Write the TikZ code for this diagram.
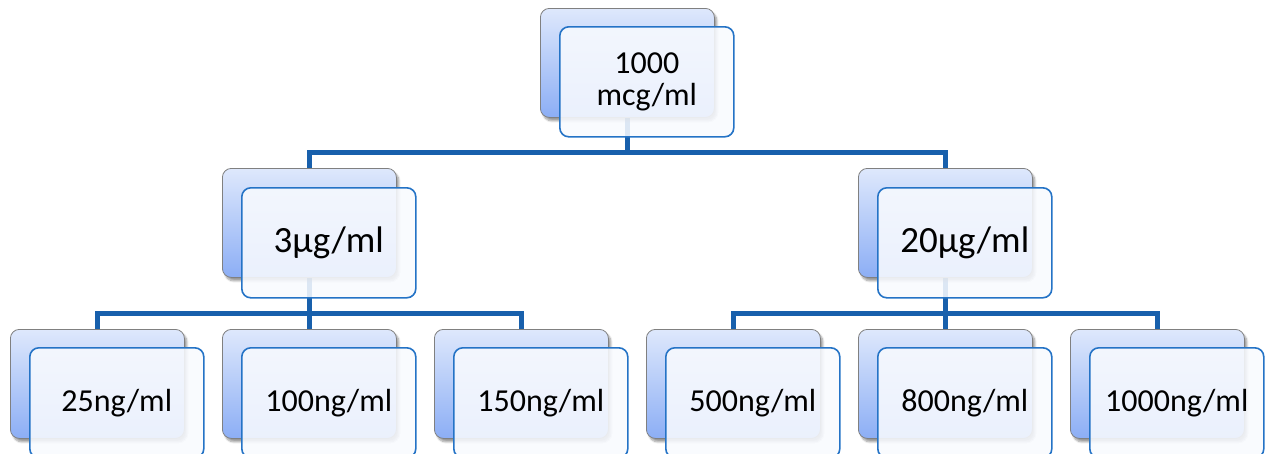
\documentclass[tikz,border=0pt]{standalone}
\usepackage{fontspec}
\setmainfont{Carlito}
\usetikzlibrary{shadows.blur,backgrounds}
\definecolor{linkblue}{RGB}{24,96,172}
\definecolor{edgeblue}{RGB}{36,115,198}
\definecolor{backtop}{RGB}{222,232,252}
\definecolor{backbot}{RGB}{140,174,245}
\definecolor{frontfill}{RGB}{248,250,254}
\begin{document}
\begin{tikzpicture}[x=1pt,y=-1pt,
  backbox/.style={draw=black!50, line width=0.8pt, rounded corners=9pt,
    top color=backtop, bottom color=backbot, minimum width=174pt,
    minimum height=109pt, anchor=north west, inner sep=0pt,
    blur shadow={shadow xshift=2.5pt, shadow yshift=-3.5pt, shadow blur steps=6, shadow opacity=40}},
  frontbox/.style={draw=edgeblue, line width=1.6pt, rounded corners=9pt,
    fill=frontfill, fill opacity=0.88, text opacity=1, minimum width=174pt,
    minimum height=110pt, anchor=north west, inner sep=0pt, align=center},
  small/.style={font=\fontsize{32}{34}\selectfont},
  mid/.style={font=\fontsize{37}{40}\selectfont},
  link/.style={draw=linkblue, line width=5pt}]
\useasboundingbox (0,0) rectangle (1267,453);
\clip (0,0) rectangle (1267,453);

% top level
\node[backbox] (topB) at (540,8) {};
\node[frontbox, small] (topF) at (559,26) {1000\\[-2pt]mcg/ml};

% middle level
\node[backbox] (leftB) at (222,168) {};
\node[frontbox, mid] (leftF) at (241,187) {3µg/ml};
\node[backbox] (rightB) at (858,168) {};
\node[frontbox, mid] (rightF) at (877,187) {20µg/ml};

% bottom level
\node[backbox] (b1B) at (10,329) {};
\node[frontbox, small] (b1F) at (29,347) {25ng/ml};
\node[backbox] (b2B) at (222,329) {};
\node[frontbox, small] (b2F) at (241,347) {100ng/ml};
\node[backbox] (b3B) at (434,329) {};
\node[frontbox, small] (b3F) at (453,347) {150ng/ml};
\node[backbox] (b4B) at (646,329) {};
\node[frontbox, small] (b4F) at (665,347) {500ng/ml};
\node[backbox] (b5B) at (858,329) {};
\node[frontbox, small] (b5F) at (877,347) {800ng/ml};
\node[backbox] (b6B) at (1070,329) {};
\node[frontbox, small] (b6F) at (1089,347) {1000ng/ml};

% elbow connectors, kept behind the cards
\begin{scope}[on background layer]
  \coordinate (j0) at (topB.center |- 0,152);
  \coordinate (j1) at (leftB.center |- 0,313);
  \coordinate (j2) at (rightB.center |- 0,313);
  \draw[link] (topB.center) -- (j0);
  \draw[link] (leftB.center) |- (j0);
  \draw[link] (rightB.center) |- (j0);
  \draw[link] (leftB.center) -- (j1);
  \draw[link] (rightB.center) -- (j2);
  \foreach \b in {b1B,b2B,b3B}{\draw[link] (\b.center) |- (j1);}
  \foreach \b in {b4B,b5B,b6B}{\draw[link] (\b.center) |- (j2);}
\end{scope}
\end{tikzpicture}
\end{document}
